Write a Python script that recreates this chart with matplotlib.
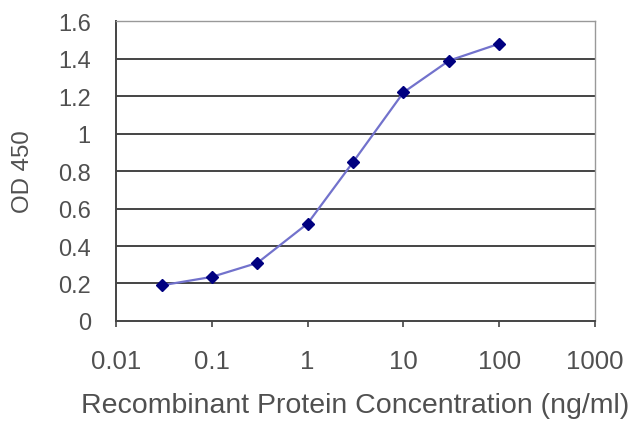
import matplotlib
matplotlib.use("Agg")
import matplotlib.pyplot as plt

conc = [0.03, 0.1, 0.3, 1, 3, 10, 30, 100]
od = [0.19, 0.235, 0.31, 0.52, 0.85, 1.22, 1.39, 1.48]
xticks = [0.01, 0.1, 1, 10, 100, 1000]
xlabels = ["0.01", "0.1", "1", "10", "100", "1000"]
yticks = [0, 0.2, 0.4, 0.6, 0.8, 1.0, 1.2, 1.4, 1.6]
ylabels = ["0", "0.2", "0.4", "0.6", "0.8", "1", "1.2", "1.4", "1.6"]

plt.rcParams['font.family'] = ['Liberation Sans', 'DejaVu Sans']
txt = '#505050'

fig = plt.figure(figsize=(6.4, 4.27), dpi=100)
ax = fig.add_axes([0.181, 0.246, 0.749, 0.702])

ax.plot(conc, od, color='#7272cc', lw=1.6, zorder=3)
ax.plot(conc, od, ls='none', marker='D', ms=6.5, color='#000080', zorder=4)

ax.set_xscale('log')
ax.set_xlim(0.01, 1000)
ax.set_ylim(0, 1.6)
ax.set_xticks(xticks)
ax.set_xticklabels(xlabels)
ax.minorticks_off()
ax.set_yticks(yticks)
ax.set_yticklabels(ylabels)

for y in yticks[1:-1]:
    ax.axhline(y, color='#444444', lw=1.4, zorder=1)

for s in ['left', 'bottom']:
    ax.spines[s].set_color('#444444')
    ax.spines[s].set_linewidth(1.4)
for s in ['top', 'right']:
    ax.spines[s].set_color('#999999')
    ax.spines[s].set_linewidth(1.0)

ax.tick_params(axis='x', direction='out', length=4, width=1.2, color='#444444',
               labelcolor=txt, labelsize=18.5, pad=16)
ax.tick_params(axis='y', length=0, labelcolor=txt, labelsize=17, pad=18)

ax.set_xlabel('Recombinant Protein Concentration (ng/ml)', fontsize=20.5, color=txt, labelpad=14)
ax.set_ylabel('OD 450', fontsize=17.3, color=txt, labelpad=17)

fig.savefig('out.png', dpi=100)
